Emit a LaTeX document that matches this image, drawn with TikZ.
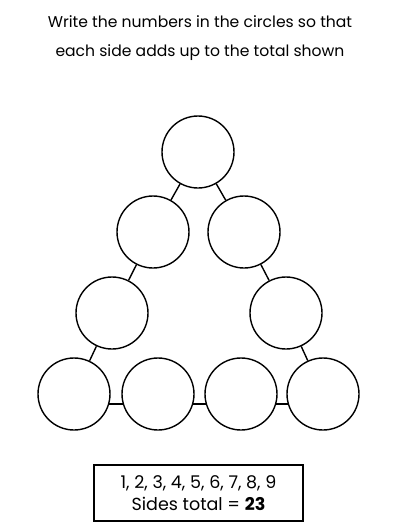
\documentclass[tikz,border=0pt]{standalone}
\usepackage{fontspec}
\setmainfont{Poppins}
\usepackage{tikz}
\usetikzlibrary{arrows}
\usetikzlibrary{positioning}

\begin{document}
\begin{tikzpicture}[x=1pt,y=-1pt,thick,line width=1.4pt,
    spot/.style={shape=circle,draw=black,minimum size=72pt,inner sep=0pt}]

            \useasboundingbox (0,0) rectangle (400,531);

            % Instructions
            \node[align=center,font=\fontsize{15.6}{28.5}\selectfont] (title) at (200,38) {Write the numbers in the circles so that\\each side adds up to the total shown};

            % Top node
            \node[spot] (T) at (198,152) {};

            % Left side nodes
            \node[spot] (L1) at (153,232) {};
            \node[spot] (L2) at (112,313) {};

            % Right side nodes
            \node[spot] (R1) at (244,232) {};
            \node[spot] (R2) at (286,313) {};

            % Bottom nodes
            \node[spot] (B1) at (74,394) {};
            \node[spot] (B2) at (158,394) {};
            \node[spot] (B3) at (241,394) {};
            \node[spot] (B4) at (323,394) {};

            % Lines along the sides
            \path (T) edge (L1);
            \path (L1) edge (L2);
            \path (L2) edge (B1);
            \path (T) edge (R1);
            \path (R1) edge (R2);
            \path (R2) edge (B4);
            \path (B1.-16) edge (B2.196);
            \path (B2.-16) edge (B3.196);
            \path (B3.-16) edge (B4.196);

            % Numbers box
            \node[draw=black,align=center,minimum width=209pt,minimum height=56pt,inner sep=0pt,
                  font=\fontsize{17.5}{21.5}\selectfont] (key) at (198.5,493) {1, 2, 3, 4, 5, 6, 7, 8, 9\\Sides total = \textbf{23}};

        \end{tikzpicture}
\end{document}
